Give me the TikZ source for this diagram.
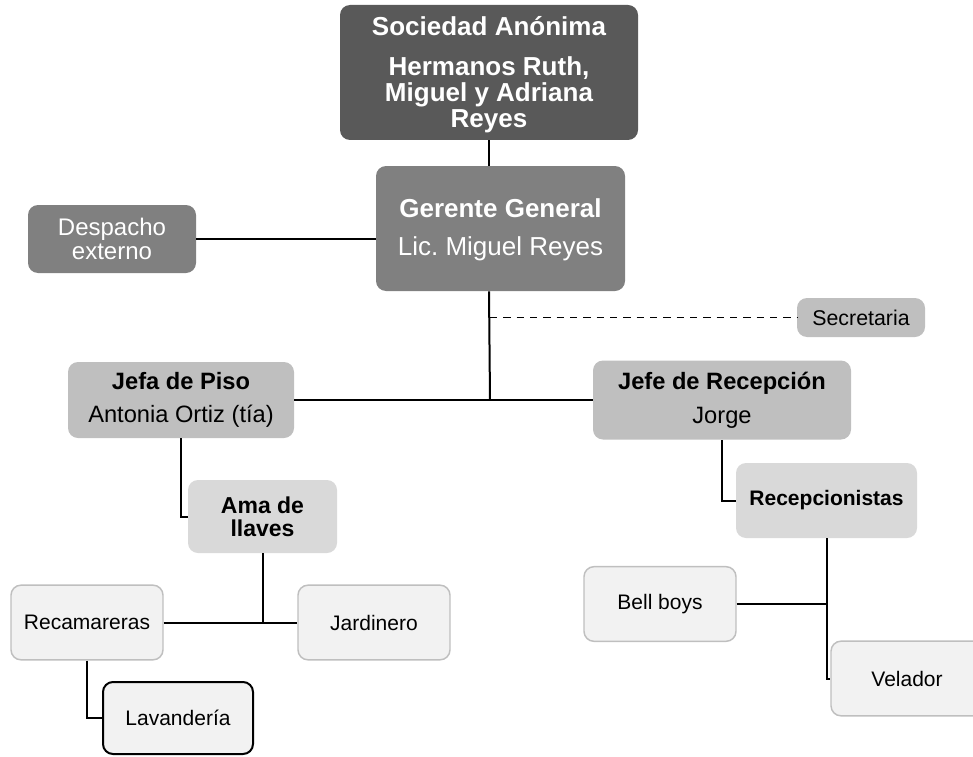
\documentclass[tikz,border=0pt]{standalone}
\usepackage{fontspec}
\setmainfont{Liberation Sans}
\frenchspacing
\definecolor{grisA}{HTML}{595959}
\definecolor{grisB}{HTML}{808080}
\definecolor{grisC}{HTML}{BFBFBF}
\definecolor{grisD}{HTML}{D9D9D9}
\definecolor{grisE}{HTML}{F2F2F2}
\begin{document}
\begin{tikzpicture}[x=0.75pt,y=0.75pt,yscale=-1,xscale=1,
  caja/.style={rounded corners=7.5pt, align=center, inner sep=0pt},
  oscura/.style={caja, fill=grisA, text=white},
  media/.style={caja, fill=grisB, text=white},
  clara/.style={caja, fill=grisC},
  palida/.style={caja, fill=grisD},
  blanca/.style={caja, fill=grisE, draw=grisC, line width=1.1pt, font=\fontsize{15.75}{15.75}\selectfont,
    minimum width=114pt, minimum height=56pt},
  linea/.style={line width=1.5pt}]
\useasboundingbox (0,0) rectangle (973,756);
\node[oscura, minimum width=223.5pt, minimum height=101.25pt, font=\fontsize{19.5}{19.5}\selectfont\bfseries] (sociedad) at (489,72.5) {\rule{0pt}{18pt}Sociedad Anónima\\[10.5pt]Hermanos Ruth,\\Miguel y Adriana\\Reyes};
\node[media, minimum width=186.75pt, minimum height=93.75pt, font=\fontsize{19.5}{19.5}\selectfont] (gerente) at (500.5,228.5) {\rule{0pt}{16pt}\textbf{Gerente General}\\[9pt]Lic. Miguel Reyes};
\node[media, minimum width=126pt, minimum height=51pt, font=\fontsize{18}{18}\selectfont] (despacho) at (112,239) {Despacho\\externo};
\node[clara, minimum width=96pt, minimum height=29.25pt, font=\fontsize{16}{16}\selectfont] (secretaria) at (861,317.5) {Secretaria};
\node[clara, minimum width=169.5pt, minimum height=57pt, font=\fontsize{17.75}{17.75}\selectfont] (jefa) at (181,400) {\textbf{Jefa de Piso}\\[7.5pt]Antonia Ortiz (tía)};
\node[clara, minimum width=193.5pt, minimum height=59.25pt, font=\fontsize{17.75}{17.75}\selectfont] (jefe) at (722,400) {\textbf{Jefe de Recepción}\\[7.5pt]Jorge};
\node[palida, minimum width=111.75pt, minimum height=54.75pt, font=\fontsize{17.25}{17.25}\selectfont\bfseries] (ama) at (262.5,516.5) {Ama de\\llaves};
\node[palida, minimum width=135.75pt, minimum height=56.25pt, font=\fontsize{15.75}{15.75}\selectfont\bfseries] (recepcionistas) at (826.5,500.5) {Recepcionistas};
\node[blanca] (recamareras) at (87,622.5) {Recamareras};
\node[blanca] (jardinero) at (374,622.5) {Jardinero};
\node[blanca, draw=black, line width=1.5pt, minimum width=112.5pt, minimum height=54pt] (lavanderia) at (178,718) {Lavandería};
\node[blanca] (bellboys) at (660,604) {Bell boys};
\node[blanca] (velador) at (907,678.5) {Velador};
\coordinate (cruce) at (490,400);
\draw[linea] (sociedad.south) -- (sociedad.south |- gerente.north);
\draw[linea] (despacho.east) -- (despacho.east -| gerente.west);
\draw[linea] (sociedad.south |- gerente.south) -- (cruce);
\draw[linea] (jefa.east) -- (cruce) -- (jefe.west);
\draw[line width=1.4pt, dash pattern={on 5.5pt off 4.5pt}] (cruce |- secretaria.west) -- (secretaria.west);
\draw[linea] (jefa.south) |- (ama.west);
\draw[linea] (jefe.south) |- (recepcionistas.west);
\draw[linea] (ama.south) -- (ama.south |- recamareras.east);
\draw[linea] (recamareras.east) -- (jardinero.west);
\draw[linea] (recamareras.south) |- (lavanderia.west);
\draw[linea] (recepcionistas.south) |- (velador.west);
\draw[linea] (bellboys.east) -- (bellboys.east -| recepcionistas.south);
\end{tikzpicture}
\end{document}
